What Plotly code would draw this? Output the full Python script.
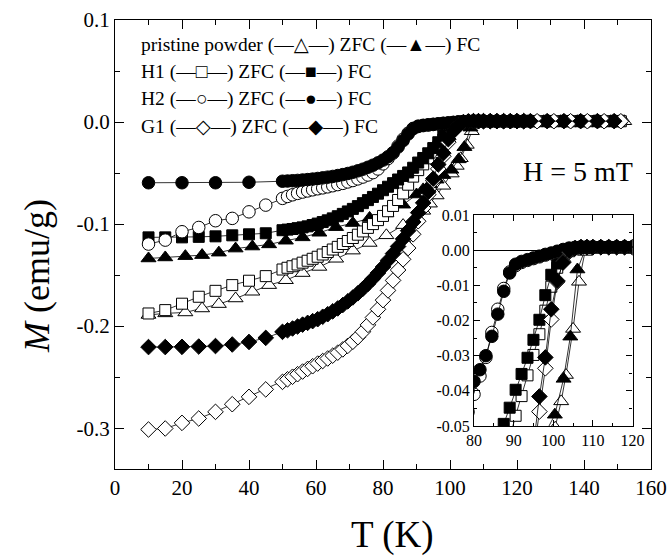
import plotly.graph_objects as go

FONT = "Liberation Serif, Times New Roman, DejaVu Serif, serif"

# ---------------- data (T in K, M in emu/g) ----------------
T_P_ZFC = [10, 15, 21, 26, 31, 36, 41, 46, 51, 56, 61, 66, 71, 76, 81, 86,
           90, 92, 94, 96, 98, 100.5, 102, 103.2, 105, 106.5, 108,
           110, 112, 114, 116, 118, 120, 122, 126, 131, 136, 141, 146, 152]
M_P_ZFC = [-0.189, -0.1875, -0.1866, -0.1827, -0.1784, -0.1729, -0.1663, -0.1598,
           -0.155, -0.148, -0.142, -0.134, -0.126, -0.1185, -0.111, -0.101,
           -0.093, -0.087, -0.080, -0.072, -0.0625, -0.0505, -0.043, -0.0355,
           -0.0224, -0.009, -0.0005,
           0.0005, 0.0008, 0.0008, 0.0008, 0.0008, 0.0008, 0.0008, 0.0008,
           0.0008, 0.0008, 0.0008, 0.0008, 0.0008]

T_P_FC = [10, 15, 21, 26, 31, 36, 41, 46, 51, 56, 61, 66, 71, 76, 81, 86,
          90, 92, 94, 96, 98, 100.4, 102.6, 104.3, 106.1, 108,
          110, 112, 114, 116, 118, 120, 123, 128, 133, 138, 143, 148]
M_P_FC = [-0.1337, -0.1327, -0.1314, -0.1304, -0.128, -0.124, -0.122, -0.1199,
          -0.1163, -0.113, -0.1085, -0.103, -0.099, -0.094, -0.0895, -0.081,
          -0.071, -0.066, -0.061, -0.0565, -0.052, -0.0468, -0.0366, -0.0246,
          -0.0055, 0.0,
          0.0008, 0.0008, 0.0008, 0.0008, 0.0008, 0.0008, 0.0008, 0.0008,
          0.0008, 0.0008, 0.0008, 0.0008]

# temperatures of the densely measured part (50-110 K) and the flat tail
T_DENSE = [51.5, 53, 54.5, 56, 57.5, 59, 60.5, 62, 63.5, 65, 66.5, 68, 69.5, 71,
           72.5, 74, 75.5, 77, 78.5, 80, 81.5, 83, 84.5, 86, 87.5, 89, 90.5, 92,
           93.5, 95, 96.5, 98, 99.5, 101, 102.5, 104, 105.5, 107, 108.5, 110]
T_TAIL_ZFC = [112, 114, 116, 118, 120, 122, 126, 131, 136, 141, 146, 151]
T_TAIL_FC = [112, 114, 116, 118, 120, 122, 124, 129, 134, 139, 144, 149]

T_H1_ZFC = [10, 15, 20, 25, 30, 35, 40, 45, 50] + T_DENSE + T_TAIL_ZFC
M_H1_ZFC = [-0.1876, -0.1843, -0.178, -0.1712, -0.1654, -0.1598, -0.1555, -0.151, -0.1445,
            -0.1428, -0.1413, -0.1396, -0.1378, -0.1359, -0.1340, -0.1320, -0.1298,
            -0.1274, -0.1249, -0.1223, -0.1195, -0.1166, -0.1136, -0.1104, -0.1072,
            -0.1037, -0.1000, -0.0961, -0.0920, -0.0874, -0.0822, -0.0764, -0.0700,
            -0.0614, -0.0535, -0.0471, -0.0415, -0.0356, -0.0298, -0.0239, -0.0172,
            -0.0104, -0.0050, -0.0022, -0.0003, 0.0005, 0.0008, 0.0008, 0.0008,
            0.0008, 0.0008, 0.0008, 0.0008, 0.0008, 0.0008, 0.0008, 0.0008,
            0.0008, 0.0008, 0.0008, 0.0008]

T_H1_FC = [10, 15, 20, 25, 30, 35, 40, 45, 50] + T_DENSE + T_TAIL_FC
M_H1_FC = [-0.113, -0.113, -0.113, -0.1125, -0.112, -0.111, -0.110, -0.109, -0.106,
           -0.1054, -0.1048, -0.1040, -0.1032, -0.1022, -0.1009, -0.0995, -0.0980,
           -0.0963, -0.0944, -0.0923, -0.0900, -0.0876, -0.0851, -0.0824, -0.0795,
           -0.0765, -0.0734, -0.0702, -0.0668, -0.0634, -0.0599, -0.0563, -0.0528,
           -0.0494, -0.0448, -0.0397, -0.0352, -0.0306, -0.0255, -0.0198, -0.0128,
           -0.0070, -0.0038, -0.0016, 0.0, 0.0006, 0.0008, 0.0008, 0.0008,
           0.0008, 0.0008, 0.0008, 0.0008, 0.0008, 0.0008, 0.0008, 0.0008,
           0.0008, 0.0008, 0.0008, 0.0008]

T_H2_ZFC = [10, 15, 20, 25, 30, 35, 40, 45, 50] + T_DENSE + T_TAIL_ZFC
M_H2_ZFC = [-0.1196, -0.1157, -0.1075, -0.1033, -0.0967, -0.0944, -0.088, -0.0814, -0.0748,
            -0.0729, -0.0713, -0.0699, -0.0686, -0.0675, -0.0664, -0.0654, -0.0645,
            -0.0635, -0.0624, -0.0613, -0.0601, -0.0587, -0.0573, -0.0557, -0.0539,
            -0.0519, -0.0496, -0.0460, -0.0410, -0.0358, -0.0305, -0.0234, -0.0168,
            -0.0109, -0.0062, -0.0044, -0.0035, -0.0029, -0.0024, -0.0019, -0.0014,
            -0.0010, -0.0005, 0.0, 0.0004, 0.0007, 0.0009, 0.0009, 0.0009,
            0.0009, 0.0009, 0.0009, 0.0009, 0.0009, 0.0009, 0.0009, 0.0009,
            0.0009, 0.0009, 0.0009, 0.0009]

T_H2_FC = [10, 20, 30, 40, 50] + T_DENSE + T_TAIL_FC
M_H2_FC = [-0.0595, -0.0595, -0.0595, -0.059, -0.058,
           -0.0578, -0.0575, -0.0572, -0.0568, -0.0564, -0.0559, -0.0553, -0.0547,
           -0.0540, -0.0533, -0.0524, -0.0515, -0.0504, -0.0492, -0.0478, -0.0462,
           -0.0443, -0.0423, -0.0400, -0.0373, -0.0340, -0.0300, -0.0245, -0.0182,
           -0.0117, -0.0065, -0.0040, -0.0032, -0.0027, -0.0022, -0.0017, -0.0012,
           -0.0008, -0.0003, 0.0002, 0.0006, 0.0008, 0.0009, 0.0009, 0.0009,
           0.0009, 0.0009, 0.0009, 0.0009, 0.0009, 0.0009, 0.0009, 0.0009,
           0.0009, 0.0009, 0.0009, 0.0009]

T_G1_ZFC = [10, 15, 20, 25, 30, 35, 40, 45, 50] + T_DENSE + T_TAIL_ZFC
M_G1_ZFC = [-0.3013, -0.3003, -0.2948, -0.2905, -0.284, -0.2765, -0.2693, -0.262, -0.2546,
            -0.2521, -0.2496, -0.2471, -0.2445, -0.2419, -0.2393, -0.2367, -0.2342,
            -0.2317, -0.2289, -0.2260, -0.2228, -0.2193, -0.2153, -0.2108, -0.2055,
            -0.1988, -0.1915, -0.1835, -0.1745, -0.1650, -0.1552, -0.1450, -0.1345,
            -0.1235, -0.1100, -0.0972, -0.0842, -0.0712, -0.0575, -0.0459, -0.0336,
            -0.0197, -0.0090, -0.0032, -0.0005, 0.0005, 0.0008, 0.0008, 0.0008,
            0.0008, 0.0008, 0.0008, 0.0008, 0.0008, 0.0008, 0.0008, 0.0008,
            0.0008, 0.0008, 0.0008, 0.0008]

T_G1_FC = [10, 15, 20, 25, 30, 35, 40, 45, 50] + T_DENSE + T_TAIL_FC
M_G1_FC = [-0.2205, -0.2205, -0.2203, -0.220, -0.2195, -0.218, -0.2155, -0.2115, -0.2056,
           -0.2041, -0.2023, -0.2004, -0.1985, -0.1968, -0.1951, -0.1932, -0.1908,
           -0.1883, -0.1855, -0.1826, -0.1793, -0.1757, -0.1719, -0.1678, -0.1634,
           -0.1586, -0.1534, -0.1479, -0.1420, -0.1356, -0.1289, -0.1219, -0.1145,
           -0.1065, -0.0979, -0.0888, -0.0792, -0.0684, -0.0555, -0.0416, -0.0305,
           -0.0168, -0.0087, -0.0035, -0.0002, 0.0006, 0.0009, 0.0009, 0.0009,
           0.0009, 0.0009, 0.0009, 0.0009, 0.0009, 0.0009, 0.0009, 0.0009,
           0.0009, 0.0009, 0.0009, 0.0009]

# tick labels and texts
X_TICKS = [0, 20, 40, 60, 80, 100, 120, 140, 160]
Y_TICKVALS = [0.1, 0.0, -0.1, -0.2, -0.3]
Y_TICKTEXT = ["0.1", "0.0", "-0.1", "-0.2", "-0.3"]
X2_TICKS = [80, 90, 100, 110, 120]
Y2_TICKVALS = [0.01, 0.0, -0.01, -0.02, -0.03, -0.04, -0.05]
Y2_TICKTEXT = ["0.01", "0.00", "-0.01", "-0.02", "-0.03", "-0.04", "-0.05"]
X_TITLE = "T (K)"
Y_TITLE = "<i>M</i> (emu/g)"
FIELD_LABEL = "H = 5 mT"

LEGEND_LINES = [
    "pristine powder (—△—) ZFC (—▲—) FC",
    "H1 (—□—) ZFC (—■—) FC",
    "H2 (—○—) ZFC (—●—) FC",
    "G1 (—◇—) ZFC (—◆—) FC",
]

series = [
    (T_P_ZFC, M_P_ZFC, "triangle-up", "white", 13),
    (T_P_FC, M_P_FC, "triangle-up", "black", 13),
    (T_H1_ZFC, M_H1_ZFC, "square", "white", 11),
    (T_H1_FC, M_H1_FC, "square", "black", 11),
    (T_H2_ZFC, M_H2_ZFC, "circle", "white", 12.5),
    (T_H2_FC, M_H2_FC, "circle", "black", 12.5),
    (T_G1_ZFC, M_G1_ZFC, "diamond", "white", 12),
    (T_G1_FC, M_G1_FC, "diamond", "black", 12),
]
for T, M, *_ in series:
    assert len(T) == len(M), (len(T), len(M))

fig = go.Figure()
for xa, ya in [("x", "y"), ("x2", "y2")]:
    for T, M, sym, fill, size in series:
        fig.add_trace(go.Scatter(
            x=T, y=M, mode="lines+markers", xaxis=xa, yaxis=ya,
            line=dict(color="black", width=0.8),
            marker=dict(symbol=sym, size=size, color=fill,
                        line=dict(color="black", width=1)),
            showlegend=False, hoverinfo="x+y"))

axis_common = dict(showline=True, linecolor="black", linewidth=1.3, mirror="allticks",
                   ticks="inside", tickcolor="black", showgrid=False, zeroline=False,
                   automargin=False)

fig.update_layout(
    template="none",
    width=670, height=558,
    margin=dict(l=115, r=19, t=20, b=89, autoexpand=False),
    paper_bgcolor="white", plot_bgcolor="white",
    font=dict(family=FONT, color="black"),
    xaxis=dict(range=[0, 160], tickmode="array", tickvals=X_TICKS,
               ticklen=9, tickwidth=1.2,
               minor=dict(tickmode="linear", tick0=0, dtick=10, ticks="inside",
                          ticklen=5, tickcolor="black", tickwidth=1.1, showgrid=False),
               tickfont=dict(size=21, family=FONT),
               **axis_common),
    yaxis=dict(range=[-0.34, 0.1], tickmode="array", tickvals=Y_TICKVALS, ticktext=Y_TICKTEXT,
               ticklen=9, tickwidth=1.2,
               minor=dict(tickmode="linear", tick0=0, dtick=0.05, ticks="inside",
                          ticklen=5, tickcolor="black", tickwidth=1.1, showgrid=False),
               tickfont=dict(size=21, family=FONT),
               **axis_common),
    xaxis2=dict(domain=[0.6698, 0.9655], anchor="y2", range=[80, 120],
                tickmode="array", tickvals=X2_TICKS, ticklen=6, tickwidth=1,
                minor=dict(tickmode="linear", tick0=80, dtick=5, ticks="inside",
                           ticklen=3, tickcolor="black", tickwidth=1, showgrid=False),
                tickfont=dict(size=16, family=FONT),
                showline=True, linecolor="black", linewidth=1.2, mirror="allticks",
                ticks="inside", tickcolor="black", showgrid=False, zeroline=False,
                automargin=False),
    yaxis2=dict(domain=[0.0958, 0.5657], anchor="x2", range=[-0.05, 0.01],
                tickmode="array", tickvals=Y2_TICKVALS, ticktext=Y2_TICKTEXT,
                ticklen=6, tickwidth=1,
                minor=dict(tickmode="linear", tick0=0, dtick=0.005, ticks="inside",
                           ticklen=3, tickcolor="black", tickwidth=1, showgrid=False),
                tickfont=dict(size=16, family=FONT),
                showline=True, linecolor="black", linewidth=1.2, mirror="allticks",
                ticks="inside", tickcolor="black", showgrid=False,
                zeroline=True, zerolinecolor="black", zerolinewidth=1,
                automargin=False),
)

# axis titles
fig.add_annotation(xref="paper", yref="paper", x=0.517, y=-0.147, text=X_TITLE,
                   showarrow=False, xanchor="center", yanchor="middle",
                   font=dict(size=37, family=FONT, color="black"))
fig.add_annotation(xref="paper", yref="paper", x=-0.1455, y=0.43, text=Y_TITLE,
                   textangle=-90, showarrow=False, xanchor="center", yanchor="middle",
                   font=dict(size=36, family=FONT, color="black"))

row_y = [0.944, 0.885, 0.824, 0.762]
for txt, yy in zip(LEGEND_LINES, row_y):
    fig.add_annotation(xref="paper", yref="paper", x=0.0448, y=yy, text=txt,
                       showarrow=False, xanchor="left", yanchor="middle",
                       font=dict(size=19.5, family=FONT, color="black"))

fig.add_annotation(xref="paper", yref="paper", x=0.757, y=0.6615, text=FIELD_LABEL,
                   showarrow=False, xanchor="left", yanchor="middle",
                   font=dict(size=28, family=FONT, color="black"))

fig.write_html("out.html",
               config={"displayModeBar": False},
               post_script="document.body.style.margin='0';"
                           "document.body.style.overflow='hidden';")
